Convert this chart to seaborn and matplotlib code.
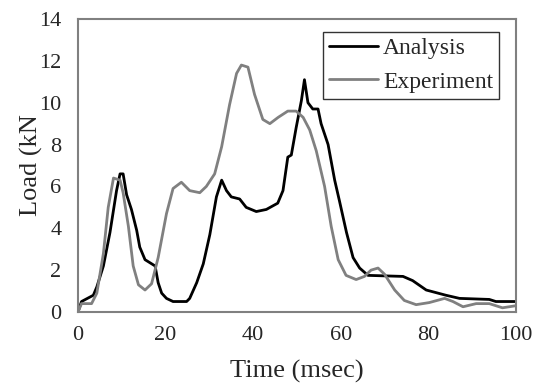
import matplotlib
matplotlib.use("Agg")
import matplotlib.pyplot as plt
import pandas as pd
import seaborn as sns

# values
analysis_time = [0, 0.8, 3.5, 4.3, 5.8, 7.3, 8.8, 9.6, 10.3, 11.1, 12.2, 13.4, 14.1,
                 15.3, 17.6, 18.3, 19.1, 20.2, 21.7, 24.8, 25.5, 27.1, 28.6, 30.1,
                 31.6, 32.8, 33.9, 35.0, 36.9, 38.4, 40.7, 43.0, 45.6, 46.8, 47.9,
                 48.7, 49.8, 51.0, 51.7, 52.5, 53.6, 54.8, 55.5, 57.1, 58.6, 59.7,
                 61.3, 62.8, 64.3, 66.2, 74.2, 76.4, 79.5, 84.0, 87.1, 93.9, 95.4, 100]
analysis_load = [0, 0.5, 0.8, 1.2, 2.2, 3.8, 5.8, 6.6, 6.6, 5.6, 4.9, 3.9, 3.1,
                 2.5, 2.2, 1.4, 0.9, 0.65, 0.5, 0.5, 0.65, 1.4, 2.3, 3.7,
                 5.5, 6.3, 5.8, 5.5, 5.4, 5.0, 4.8, 4.9, 5.2, 5.8, 7.4,
                 7.5, 8.8, 10.1, 11.1, 10.0, 9.7, 9.7, 9.0, 8.0, 6.3, 5.3,
                 3.8, 2.6, 2.1, 1.75, 1.7, 1.5, 1.05, 0.8, 0.65, 0.6, 0.5, 0.5]

experiment_time = [0, 0.8, 3.1, 4.3, 5.8, 6.9, 8.1, 9.6, 10.3, 11.5, 12.6, 13.8,
                   15.3, 16.8, 18.3, 20.2, 21.7, 23.6, 25.5, 27.8, 29.3, 31.2,
                   32.8, 34.6, 36.2, 37.3, 38.8, 40.3, 42.2, 43.8, 45.7, 47.9,
                   49.8, 51.4, 52.9, 54.4, 56.3, 57.8, 59.4, 61.2, 63.5, 65.4,
                   66.9, 68.5, 70.0, 72.3, 74.5, 77.2, 80.2, 83.7, 85.6, 87.9,
                   90.9, 93.9, 96.9, 100]
experiment_load = [0, 0.4, 0.4, 0.9, 2.8, 5.0, 6.4, 6.3, 5.7, 4.1, 2.2, 1.3,
                   1.05, 1.35, 2.6, 4.7, 5.9, 6.2, 5.8, 5.7, 6.0, 6.6,
                   7.9, 9.9, 11.4, 11.8, 11.7, 10.4, 9.2, 9.0, 9.3, 9.6,
                   9.6, 9.3, 8.7, 7.7, 6.0, 4.1, 2.5, 1.75, 1.55, 1.7,
                   2.0, 2.1, 1.8, 1.05, 0.55, 0.35, 0.45, 0.65, 0.5, 0.25,
                   0.4, 0.4, 0.2, 0.3]

x_ticks = [0, 20, 40, 60, 80, 100]
y_ticks = [0, 2, 4, 6, 8, 10, 12, 14]

df = pd.concat([
    pd.DataFrame({"time": analysis_time, "load": analysis_load, "series": "Analysis"}),
    pd.DataFrame({"time": experiment_time, "load": experiment_load, "series": "Experiment"}),
])

sns.set_style("white")
plt.rcParams["font.family"] = ["Liberation Serif", "DejaVu Serif"]

fig = plt.figure(figsize=(5.35, 3.88), dpi=100)
ax = fig.add_axes([0.1458, 0.1959, 0.8187, 0.7551])

sns.lineplot(data=df, x="time", y="load", hue="series",
             palette={"Analysis": "black", "Experiment": "#808080"},
             linewidth=2, ax=ax, sort=False)

ax.set_xlim(0, 100)
ax.set_ylim(0, 14)
ax.set_xticks(x_ticks)
ax.set_yticks(y_ticks)
ax.tick_params(axis="both", length=0, labelsize=16)
ax.tick_params(axis="x", pad=10)
ax.tick_params(axis="y", pad=12)
ax.set_xlabel("Time (msec)", fontsize=19)
ax.set_ylabel("Load (kN", fontsize=19)
ax.xaxis.set_label_coords(0.5, -0.165)
ax.yaxis.set_label_coords(-0.08, 0.5)

for side in ax.spines.values():
    side.set_color("#808080")
    side.set_linewidth(1.5)

leg = ax.legend(loc="upper right", bbox_to_anchor=(0.961, 0.956), borderaxespad=0,
                fontsize=17, frameon=True, fancybox=False, handlelength=2.1,
                borderpad=0.25, labelspacing=0.5, handletextpad=0.2)
leg.get_frame().set_edgecolor("black")
leg.get_frame().set_linewidth(1)
leg.set_title(None)

fig.savefig("out.png", dpi=100)
